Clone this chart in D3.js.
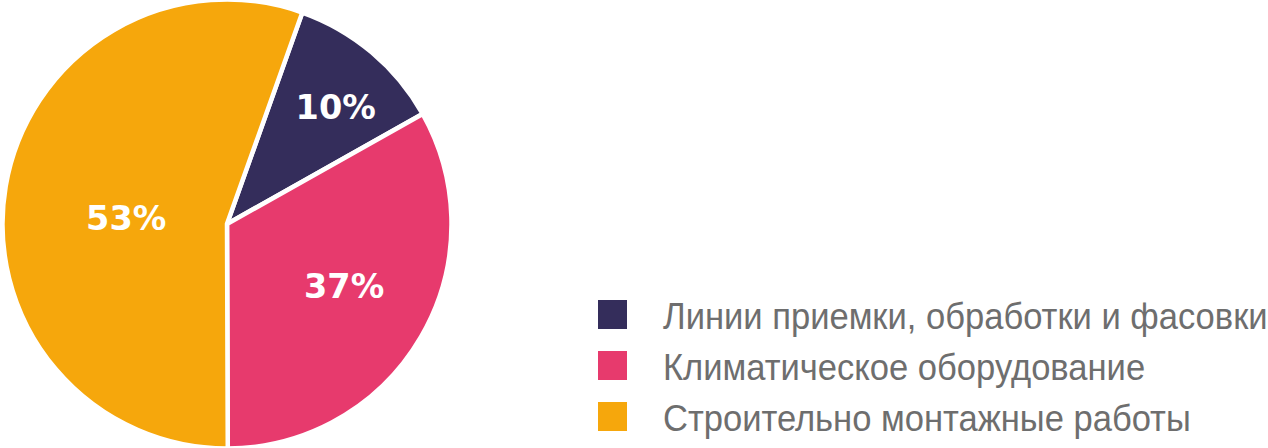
<!DOCTYPE html>
<html>
<head>
<meta charset="utf-8">
<script src="https://cdn.jsdelivr.net/npm/d3@7"></script>
<style>
  html, body { margin: 0; padding: 0; background: #ffffff; }
  svg { display: block; }
</style>
</head>
<body>
<svg id="chart" width="1268" height="448"></svg>
<script>
// ---- data ----
const categories = [
  "Линии приемки, обработки и фасовки",
  "Климатическое оборудование",
  "Строительно монтажные работы"
];
// slice shares as drawn in the picture
const shares = [11.4, 33.1, 55.5];
// printed percentage labels
const percentLabels = ["10%", "37%", "53%"];
const colors = ["#342d5b", "#e73a6d", "#f6a70c"];

// ---- layout ----
const W = 1268, H = 448;
const cx = 227, cy = 224, R = 224.5;
const startDeg = 19.6;
// label placement: fraction along slice angle, fraction of radius
const labelPlace = [{t: 0.57, r: 0.71}, {t: 0.48, r: 0.59}, {t: 0.47, r: 0.45}];

const svg = d3.select("#chart");
const g = svg.append("g").attr("transform", `translate(${cx},${cy})`);

const start = startDeg * Math.PI / 180;
const pie = d3.pie().sort(null).value(d => d)
  .startAngle(start).endAngle(start + 2 * Math.PI);
const arcs = pie(shares);
const arc = d3.arc().innerRadius(0).outerRadius(R);

g.selectAll("path.slice")
  .data(arcs)
  .join("path")
  .attr("class", "slice")
  .attr("d", arc)
  .attr("fill", (d, i) => colors[i])
  .attr("stroke", "#ffffff")
  .attr("stroke-width", 4.5)
  .attr("stroke-linejoin", "miter");

g.selectAll("text.pct")
  .data(arcs)
  .join("text")
  .attr("class", "pct")
  .attr("transform", (d, i) => {
    const p = labelPlace[i];
    const a = d.startAngle + (d.endAngle - d.startAngle) * p.t;
    const r = R * p.r;
    return `translate(${r * Math.sin(a)},${-r * Math.cos(a)})`;
  })
  .attr("text-anchor", "middle")
  .attr("dy", "0.36em")
  .attr("fill", "#ffffff")
  .attr("font-family", "'DejaVu Sans', sans-serif")
  .attr("font-weight", "bold")
  .attr("font-size", 33.5)
  .text((d, i) => percentLabels[i]);

// ---- legend ----
const legendY = d3.scaleBand().domain(categories).range([300, 453]).paddingInner(0);
const lg = svg.append("g");
const items = lg.selectAll("g.item")
  .data(categories)
  .join("g")
  .attr("class", "item")
  .attr("transform", d => `translate(598,${legendY(d)})`);

items.append("rect")
  .attr("width", 29)
  .attr("height", 29)
  .attr("fill", (d, i) => colors[i]);

items.append("text")
  .attr("transform", "translate(65,28.5) scale(0.96,1)")
  .attr("fill", "#6e6e6e")
  .attr("font-family", "'Liberation Sans', Arial, sans-serif")
  .attr("font-size", 36)
  .text(d => d);
</script>
</body>
</html>
